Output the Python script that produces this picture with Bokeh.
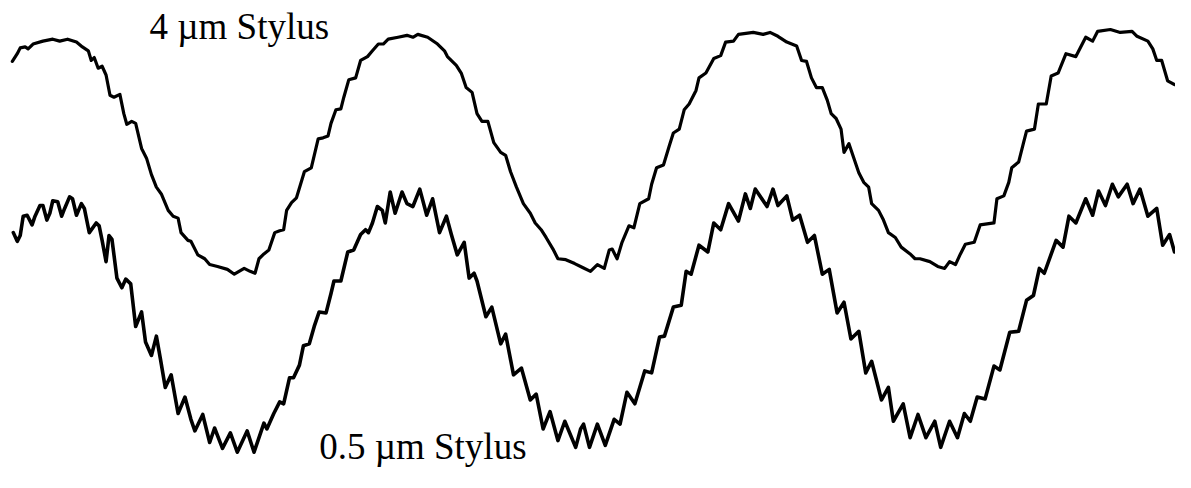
from bokeh.plotting import figure
from bokeh.models import Range1d
from bokeh.core.properties import value
from bokeh.embed import file_html
from bokeh.resources import INLINE

top_x = [12, 17, 20, 25, 28, 33, 43, 53, 60, 68, 77, 83, 89, 92, 95, 99, 103, 107, 111, 115,
         121, 125, 128, 133, 137, 143, 148, 153, 158, 163, 170, 175, 180, 183, 190, 193, 200, 207, 212, 220,
         230, 237, 247, 253, 258, 262, 267, 272, 278, 283, 287, 290, 295, 300, 308, 315, 322, 327, 332, 335,
         340, 345, 348, 353, 360, 365, 372, 377, 383, 388, 393, 403, 412, 418, 423, 433, 443, 450, 453, 462,
         467, 472, 478, 483, 488, 494, 500, 507, 512, 517, 523, 530, 537, 542, 548, 553, 560, 565, 573, 582,
         590, 598, 605, 612, 617, 620, 625, 630, 637, 642, 648, 657, 660, 665, 672, 678, 682, 688, 693, 698,
         705, 708, 715, 723, 730, 735, 743, 748, 763, 773, 780, 788, 797, 807, 812, 817, 822, 827, 833, 838,
         842, 847, 852, 855, 860, 865, 870, 875, 880, 883, 890, 895, 900, 907, 913, 922, 927, 932, 942, 950,
         957, 962, 968, 973, 978, 987, 993, 1007, 1010, 1017, 1022, 1025, 1032, 1037, 1040, 1048, 1052, 1060, 1065, 1072,
         1080, 1090, 1100, 1107, 1112, 1125, 1135, 1147, 1152, 1163, 1168, 1172, 1177, 1183, 1190]
top_y = [63, 55, 49, 48, 50, 45, 42, 40, 42, 40, 43, 48, 52, 62, 59, 70, 68, 77, 98, 100,
         97, 117, 128, 125, 127, 153, 163, 180, 193, 200, 217, 223, 225, 240, 248, 249, 263, 267, 273, 275,
         278, 283, 277, 280, 282, 267, 262, 258, 240, 238, 237, 217, 209, 204, 177, 173, 143, 142, 140, 127,
         113, 112, 100, 82, 80, 62, 58, 52, 45, 45, 40, 38, 36, 38, 35, 38, 45, 52, 58, 67,
         75, 90, 95, 117, 125, 125, 147, 157, 160, 177, 193, 210, 220, 230, 237, 245, 257, 267, 268, 272,
         276, 280, 273, 277, 258, 257, 267, 250, 233, 235, 210, 205, 190, 173, 170, 150, 137, 133, 113, 107,
         93, 80, 75, 60, 57, 43, 42, 35, 33, 35, 33, 37, 43, 47, 62, 63, 80, 90, 90, 103,
         117, 122, 133, 157, 148, 163, 178, 188, 193, 210, 217, 227, 240, 245, 255, 262, 267, 267, 270, 275,
         277, 270, 273, 262, 252, 250, 232, 230, 205, 202, 188, 173, 167, 147, 135, 133, 107, 107, 78, 75,
         55, 58, 38, 42, 32, 30, 33, 32, 37, 42, 50, 62, 62, 83, 87]

bot_x = [13, 17, 20, 23, 27, 32, 35, 40, 43, 47, 50, 53, 58, 62, 65, 70, 73, 77, 82, 85,
         90, 97, 100, 103, 107, 110, 113, 118, 123, 127, 132, 137, 143, 147, 153, 158, 162, 167, 173, 180,
         187, 193, 197, 205,
         212, 217, 225, 233, 240, 250, 257, 267, 270, 277, 283, 287, 293, 297, 303, 307, 313, 318, 323, 330,
         335, 338, 345, 352, 358, 365, 370, 373, 377, 382, 387, 390, 395, 400, 407, 412, 418, 425, 432, 438,
         445, 452, 457, 463, 470, 475, 480, 483, 492, 498, 507, 512, 520, 528, 537, 543, 550, 557, 565, 572,
         583, 588, 591, 597, 605, 613, 622, 628, 635, 643, 653, 660, 668, 673, 682, 690, 695, 700, 708, 717,
         723, 730, 738, 748, 755, 760, 765, 777, 783, 788, 797, 803, 810, 818, 825, 833, 840, 848, 855, 862,
         870, 877, 883, 893, 900, 905, 915, 922, 930, 938, 947, 953, 962, 970, 977, 983, 990, 998, 1007, 1013,
         1023, 1032, 1040, 1047, 1053, 1058, 1070, 1077, 1083, 1090, 1100, 1107, 1113, 1120, 1127, 1133, 1142, 1148, 1155, 1163,
         1172, 1178, 1185, 1190]
bot_y = [240, 249, 243, 223, 222, 232, 223, 212, 212, 227, 220, 207, 208, 223, 215, 203, 205, 222, 210, 215,
         240, 230, 233, 248, 270, 243, 247, 287, 297, 288, 293, 337, 322, 353, 367, 347, 370, 400, 387, 427,
         410, 433, 445, 428,
         457, 442, 463, 447, 467, 445, 467, 437, 443, 427, 415, 417, 390, 390, 377, 357, 355, 337, 322, 323,
         303, 290, 290, 260, 258, 242, 237, 240, 230, 213, 217, 230, 198, 220, 198, 210, 213, 195, 222, 205,
         240, 223, 242, 263, 250, 287, 282, 290, 327, 317, 355, 345, 387, 380, 413, 407, 443, 425, 455, 435,
         462, 443, 438, 462, 438, 460, 433, 438, 405, 417, 383, 385, 348, 347, 317, 315, 280, 283, 253, 260,
         230, 237, 210, 228, 200, 215, 195, 213, 195, 212, 202, 227, 222, 250, 243, 283, 278, 323, 312, 350,
         342, 385, 373, 413, 400, 435, 417, 452, 428, 452, 435, 462, 435, 452, 427, 435, 410, 412, 378, 382,
         343, 342, 310, 305, 277, 282, 248, 255, 223, 230, 205, 222, 197, 212, 190, 203, 190, 210, 195, 223,
         215, 253, 242, 260]

labels = ["4 \u00b5m Stylus", "0.5 \u00b5m Stylus"]
label_x = [151, 323]
label_y = [27, 461]

p = figure(width=1175, height=472, output_backend="svg", toolbar_location=None,
           x_range=Range1d(0, 1191), y_range=Range1d(488, 0),
           min_border=0, min_border_left=0, min_border_right=0,
           min_border_top=0, min_border_bottom=0)
p.axis.visible = False
p.grid.visible = False
p.outline_line_color = None
p.background_fill_color = "white"
p.border_fill_color = "white"

p.line(top_x, top_y, line_color="black", line_width=3.2, line_join="round", line_cap="round")
p.line(bot_x, bot_y, line_color="black", line_width=3.6, line_join="round", line_cap="round")

p.text(x=label_x, y=label_y, text=labels, text_font=value("Liberation Serif"),
       text_font_size="37px", text_color="black", text_baseline="alphabetic", text_align="left")

open("out.html", "w").write(file_html(p, INLINE))
